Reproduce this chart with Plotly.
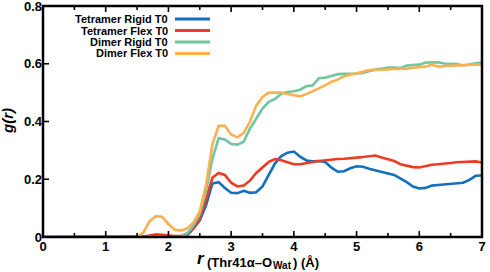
import plotly.graph_objects as go

r = [0.0, 0.1, 0.2, 0.3, 0.4, 0.5, 0.6, 0.7, 0.8, 0.9,
     1.0, 1.1, 1.2, 1.3, 1.4, 1.5, 1.6, 1.7, 1.8, 1.9,
     2.0, 2.1, 2.2, 2.3, 2.4, 2.5, 2.6, 2.7, 2.8, 2.9,
     3.0, 3.1, 3.2, 3.3, 3.4, 3.5, 3.6, 3.7, 3.8, 3.9,
     4.0, 4.1, 4.2, 4.3, 4.4, 4.5, 4.6, 4.7, 4.8, 4.9,
     5.0, 5.1, 5.2, 5.3, 5.4, 5.5, 5.6, 5.7, 5.8, 5.9,
     6.0, 6.1, 6.2, 6.3, 6.4, 6.5, 6.6, 6.7, 6.8, 6.9, 7.0]

tetramer_rigid = [0, 0, 0, 0, 0, 0, 0, 0, 0, 0,
                  0, 0, 0, 0, 0, 0, 0, 0, 0, 0,
                  0, 0, 0, 0.006, 0.03, 0.058, 0.11, 0.185, 0.19, 0.17,
                  0.153, 0.152, 0.16, 0.153, 0.155, 0.175, 0.215, 0.255, 0.28, 0.292,
                  0.296, 0.278, 0.265, 0.262, 0.263, 0.26, 0.24, 0.226, 0.228, 0.238,
                  0.245, 0.243, 0.236, 0.23, 0.225, 0.22, 0.215, 0.203, 0.19, 0.175,
                  0.168, 0.17, 0.178, 0.18, 0.182, 0.183, 0.184, 0.188, 0.198, 0.212, 0.213]

tetramer_flex = [0, 0, 0, 0, 0, 0, 0, 0, 0, 0,
                 0, 0, 0, 0, 0, 0, 0.002, 0.005, 0.009, 0.008,
                 0.005, 0.003, 0.003, 0.012, 0.03, 0.065, 0.13, 0.205, 0.222, 0.215,
                 0.188, 0.175, 0.178, 0.195, 0.222, 0.24, 0.26, 0.27, 0.266, 0.259,
                 0.252, 0.252, 0.257, 0.26, 0.263, 0.266, 0.268, 0.27, 0.271, 0.274,
                 0.275, 0.277, 0.28, 0.282, 0.275, 0.27, 0.263, 0.252, 0.246, 0.242,
                 0.241, 0.246, 0.25, 0.252, 0.253, 0.256, 0.259, 0.26, 0.263, 0.262, 0.258]

dimer_rigid = [0, 0, 0, 0, 0, 0, 0, 0, 0, 0,
               0, 0, 0, 0, 0, 0, 0, 0, 0, 0,
               0, 0, 0, 0.012, 0.04, 0.08, 0.16, 0.27, 0.342, 0.338,
               0.322, 0.32, 0.33, 0.375, 0.41, 0.445, 0.468, 0.478, 0.496, 0.502,
               0.505, 0.51, 0.522, 0.525, 0.55, 0.552, 0.558, 0.564, 0.565, 0.565,
               0.566, 0.568, 0.574, 0.58, 0.583, 0.587, 0.587, 0.585, 0.594, 0.595,
               0.597, 0.604, 0.605, 0.605, 0.601, 0.6, 0.599, 0.594, 0.599, 0.602, 0.605]

dimer_flex = [0, 0, 0, 0, 0, 0, 0, 0, 0, 0,
              0, 0, 0, 0, 0, 0, 0.015, 0.055, 0.072, 0.07,
              0.045, 0.025, 0.022, 0.03, 0.05, 0.09, 0.18, 0.32, 0.385, 0.385,
              0.355, 0.345, 0.36, 0.40, 0.455, 0.485, 0.50, 0.50, 0.50, 0.495,
              0.49, 0.487, 0.495, 0.505, 0.515, 0.525, 0.538, 0.545, 0.557, 0.563,
              0.567, 0.572, 0.578, 0.579, 0.579, 0.58, 0.582, 0.582, 0.583, 0.586,
              0.589, 0.59, 0.597, 0.59, 0.592, 0.593, 0.593, 0.593, 0.594, 0.596, 0.598]

series_names = ["Tetramer Rigid T0", "Tetramer Flex T0", "Dimer Rigid T0", "Dimer Flex T0"]
series_values = [tetramer_rigid, tetramer_flex, dimer_rigid, dimer_flex]
colors = ["#1470bd", "#ee3b24", "#6fc6a1", "#fcb04f"]

x_ticks = [0, 1, 2, 3, 4, 5, 6, 7]
x_ticktext = ["0", "1", "2", "3", "4", "5", "6", "7"]
x_minor_ticks = [0.5, 1.5, 2.5, 3.5, 4.5, 5.5, 6.5]
y_ticks = [0, 0.2, 0.4, 0.6, 0.8]
y_ticktext = ["0", "0.2", "0.4", "0.6", "0.8"]
x_range = [0, 7]
y_range = [0, 0.8]

FONT = "Liberation Sans"
W, H = 490, 272
ML, MR, MT, MB = 43, 8, 6, 35
PW, PH = W - ML - MR, H - MT - MB
MAJ, MIN = 6.0, 4.0


def px(x):
    return (x - ML) / PW


def py(y):
    return (H - MB - y) / PH


fig = go.Figure()
for name, vals, col in zip(series_names, series_values, colors):
    fig.add_trace(go.Scatter(x=r, y=vals, mode="lines", name=name,
                             line=dict(color=col, width=2.6), showlegend=False))

# tick marks (inside) drawn as one line trace: bottom + top for x, left only for y
ydu = (y_range[1] - y_range[0]) / PH   # data units per pixel (y)
xdu = (x_range[1] - x_range[0]) / PW   # data units per pixel (x)
tx, ty = [], []
for t, ln in [(v, MAJ) for v in x_ticks] + [(v, MIN) for v in x_minor_ticks]:
    tx += [t, t, None, t, t, None]
    ty += [y_range[0], y_range[0] + ln * ydu, None, y_range[1], y_range[1] - ln * ydu, None]
for v in y_ticks:
    tx += [x_range[0], x_range[0] + MAJ * xdu, None]
    ty += [v, v, None]
fig.add_trace(go.Scatter(x=tx, y=ty, mode="lines", line=dict(color="black", width=1.6),
                         hoverinfo="skip", showlegend=False, cliponaxis=False))

# Legend: text right-aligned, line sample to the right
leg_rows = [19, 30.5, 42, 53.5]
for name, col, yy in zip(series_names, colors, leg_rows):
    fig.add_annotation(x=px(169), y=py(yy), xref="paper", yref="paper", text="<b>" + name + "</b>",
                       showarrow=False, xanchor="right", yanchor="middle", borderpad=0,
                       font=dict(family=FONT, size=11, color="black"))
    fig.add_shape(type="line", xref="paper", yref="paper", x0=px(175), x1=px(210),
                  y0=py(yy), y1=py(yy), line=dict(color=col, width=3))

# frame
fig.add_shape(type="rect", xref="paper", yref="paper", x0=0, x1=1, y0=0, y1=1,
              line=dict(color="black", width=2.5), layer="above")

# y-axis title
fig.add_annotation(x=px(7), y=py(121), xref="paper", yref="paper", text="<b><i>g(r)</i></b>",
                   textangle=-90, showarrow=False, xanchor="center", yanchor="middle",
                   font=dict(family=FONT, size=15, color="black"))

# x-axis title, built from pieces
fig.add_annotation(x=px(206), y=py(258), xref="paper", yref="paper", text="<b><i>r</i></b>",
                   showarrow=False, xanchor="right", yanchor="middle", borderpad=0,
                   font=dict(family=FONT, size=17, color="black"))
fig.add_annotation(x=px(273), y=py(262), xref="paper", yref="paper", text="<b>(Thr41α–O</b>",
                   showarrow=False, xanchor="right", yanchor="middle", borderpad=0,
                   font=dict(family=FONT, size=13, color="black"))
fig.add_annotation(x=px(272), y=py(265), xref="paper", yref="paper", text="<b>Wat</b>",
                   showarrow=False, xanchor="left", yanchor="middle", borderpad=0,
                   font=dict(family=FONT, size=10, color="black"))
fig.add_annotation(x=px(292), y=py(262), xref="paper", yref="paper", text="<b>) (Å)</b>",
                   showarrow=False, xanchor="left", yanchor="middle", borderpad=0,
                   font=dict(family=FONT, size=13, color="black"))

fig.update_layout(
    width=W, height=H,
    margin=dict(l=ML, r=MR, t=MT, b=MB, autoexpand=False),
    paper_bgcolor="white", plot_bgcolor="white",
    font=dict(family=FONT, size=13, color="black"),
    showlegend=False,
    xaxis=dict(range=x_range, tickmode="array", tickvals=x_ticks,
               ticktext=["<b>%s</b>" % t for t in x_ticktext],
               ticks="", showline=False, showgrid=False, zeroline=False, automargin=False,
               ticklabeloverflow="allow",
               tickfont=dict(family=FONT, size=13, color="black")),
    yaxis=dict(range=y_range, tickmode="array", tickvals=y_ticks,
               ticktext=["<b>%s</b>" % t for t in y_ticktext],
               ticks="", showline=False, showgrid=False, zeroline=False, automargin=False,
               ticklabeloverflow="allow",
               tickfont=dict(family=FONT, size=13, color="black")),
)

fig.write_html("out.html", config={"displayModeBar": False},
               post_script="document.body.style.margin='0';")
